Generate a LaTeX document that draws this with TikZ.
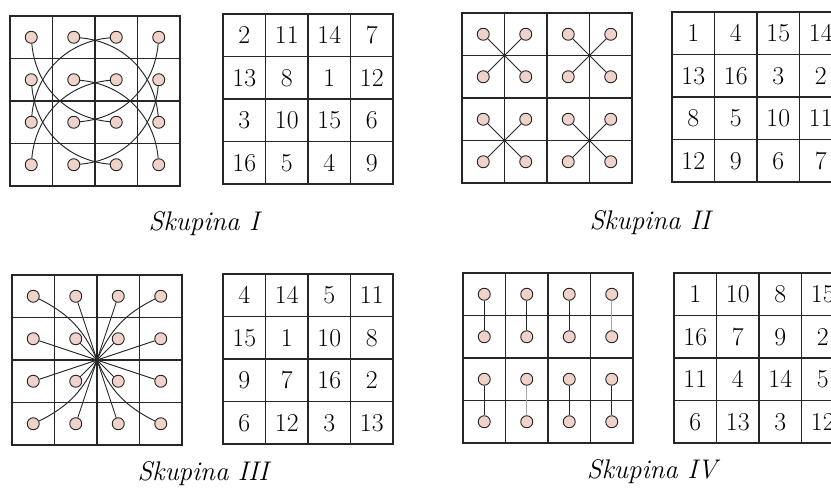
\documentclass[tikz,border=0pt]{standalone}
\usetikzlibrary{positioning}
\definecolor{GridInk}{HTML}{262626}
\definecolor{DotFill}{HTML}{EFD2CA}
\definecolor{LinkPale}{HTML}{A8A8A8}
\tikzset{cellrule/.style={draw=GridInk,line width=1.1pt,line cap=rect},
 dot/.style={circle,draw=GridInk,fill=DotFill,line width=0.8pt,minimum size=3.6mm,inner sep=0pt},
 link/.style={draw=GridInk,line width=0.8pt},palelink/.style={draw=LinkPale,line width=0.8pt},
 num/.style={font=\fontsize{22}{22}\selectfont,inner sep=0pt,text height=14.2pt,text depth=0pt},
 tag/.style={font=\fontsize{23}{23}\selectfont\itshape,anchor=base}}

\begin{document}
\begin{tikzpicture}[x=0.3mm,y=-0.3mm]
\useasboundingbox (0,0) rectangle (831,488);
\clip (0,0) rectangle (831,488);
\begin{scope}[shift={(10,16)}]
\foreach \k in {0,...,4}{\draw[cellrule] (42.5*\k,0)--(42.5*\k,170);\draw[cellrule] (0,42.5*\k)--(170,42.5*\k);}
\foreach \r in {1,...,4}\foreach \c in {1,...,4}\node[dot] (A-\r-\c) at (42.5*\c-21.25,42.5*\r-21.25) {};
\draw[link] (A-1-2) to[bend left=40] (A-3-4);
\draw[link] (A-1-3) to[bend right=40] (A-3-1);
\draw[link] (A-2-1) to[bend right=40] (A-4-3);
\draw[link] (A-2-4) to[bend left=40] (A-4-2);
\draw[link] (A-1-1) to[bend right=40] (A-3-3);
\draw[link] (A-1-4) to[bend left=40] (A-3-2);
\draw[link] (A-2-2) to[bend left=40] (A-4-4);
\draw[link] (A-2-3) to[bend right=40] (A-4-1);
\end{scope}
\begin{scope}[shift={(223,14)}]
\foreach \k in {0,...,4}{\draw[cellrule] (42.5*\k,0)--(42.5*\k,170);\draw[cellrule] (0,42.5*\k)--(170,42.5*\k);}
\foreach \row [count=\r] in {{2,11,14,7},{13,8,1,12},{3,10,15,6},{16,5,4,9}}
 \foreach \v [count=\c] in \row \node[num] (E-\r-\c) at (42.5*\c-21.25,42.5*\r-21.25) {\v};
\end{scope}
\begin{scope}[shift={(462,13)}]
\foreach \k in {0,...,4}{\draw[cellrule] (42.5*\k,0)--(42.5*\k,170);\draw[cellrule] (0,42.5*\k)--(170,42.5*\k);}
\foreach \r in {1,...,4}\foreach \c in {1,...,4}\node[dot] (B-\r-\c) at (42.5*\c-21.25,42.5*\r-21.25) {};
\foreach \r/\s in {1/2,3/4}\foreach \c/\d in {1/2,3/4}{
 \draw[link] (B-\r-\c)--(B-\s-\d);\draw[link] (B-\r-\d)--(B-\s-\c);}
\end{scope}
\begin{scope}[shift={(672,12)}]
\foreach \k in {0,...,4}{\draw[cellrule] (42.5*\k,0)--(42.5*\k,170);\draw[cellrule] (0,42.5*\k)--(170,42.5*\k);}
\foreach \row [count=\r] in {{1,4,15,14},{13,16,3,2},{8,5,10,11},{12,9,6,7}}
 \foreach \v [count=\c] in \row \node[num] (F-\r-\c) at (42.5*\c-21.25,42.5*\r-21.25) {\v};
\end{scope}
\begin{scope}[shift={(12,275)}]
\foreach \k in {0,...,4}{\draw[cellrule] (42.5*\k,0)--(42.5*\k,170);\draw[cellrule] (0,42.5*\k)--(170,42.5*\k);}
\foreach \r in {1,...,4}\foreach \c in {1,...,4}\node[dot] (C-\r-\c) at (42.5*\c-21.25,42.5*\r-21.25) {};
\coordinate (C-mid) at (85,85);
\foreach \r/\c in {1/2,1/3,2/1,2/2,2/3,2/4,3/1,3/2,3/3,3/4,4/2,4/3}\draw[link] (C-\r-\c)--(C-mid);
\draw[link] (C-1-1) to[bend left=20] (C-mid);
\draw[link] (C-4-4) to[bend left=20] (C-mid);
\draw[link] (C-1-4) to[bend right=20] (C-mid);
\draw[link] (C-4-1) to[bend right=20] (C-mid);
\fill[GridInk] (C-mid) circle[radius=0.8mm];
\end{scope}
\begin{scope}[shift={(223,274)}]
\foreach \k in {0,...,4}{\draw[cellrule] (42.5*\k,0)--(42.5*\k,170);\draw[cellrule] (0,42.5*\k)--(170,42.5*\k);}
\foreach \row [count=\r] in {{4,14,5,11},{15,1,10,8},{9,7,16,2},{6,12,3,13}}
 \foreach \v [count=\c] in \row \node[num] (G-\r-\c) at (42.5*\c-21.25,42.5*\r-21.25) {\v};
\end{scope}
\begin{scope}[shift={(463,273)}]
\foreach \k in {0,...,4}{\draw[cellrule] (42.5*\k,0)--(42.5*\k,170);\draw[cellrule] (0,42.5*\k)--(170,42.5*\k);}
\foreach \r in {1,...,4}\foreach \c in {1,...,4}\node[dot] (D-\r-\c) at (42.5*\c-21.25,42.5*\r-21.25) {};
\foreach \c in {1,2,3}\draw[link] (D-1-\c)--(D-2-\c);
\draw[palelink] (D-1-4)--(D-2-4);
\draw[link] (D-3-1)--(D-4-1);
\draw[palelink] (D-3-2)--(D-4-2);
\draw[link] (D-3-3)--(D-4-3);
\draw[link] (D-3-4)--(D-4-4);
\end{scope}
\begin{scope}[shift={(674,273)}]
\foreach \k in {0,...,4}{\draw[cellrule] (42.5*\k,0)--(42.5*\k,170);\draw[cellrule] (0,42.5*\k)--(170,42.5*\k);}
\foreach \row [count=\r] in {{1,10,8,15},{16,7,9,2},{11,4,14,5},{6,13,3,12}}
 \foreach \v [count=\c] in \row \node[num] (H-\r-\c) at (42.5*\c-21.25,42.5*\r-21.25) {\v};
\end{scope}
\node[tag] (tag-1) at (204,230) {Skupina I};
\node[tag] (tag-2) at (650,229) {Skupina II};
\node[tag] (tag-3) at (203,480) {Skupina III};
\node[tag] (tag-4) at (652,478) {Skupina IV};
\end{tikzpicture}
\end{document}
